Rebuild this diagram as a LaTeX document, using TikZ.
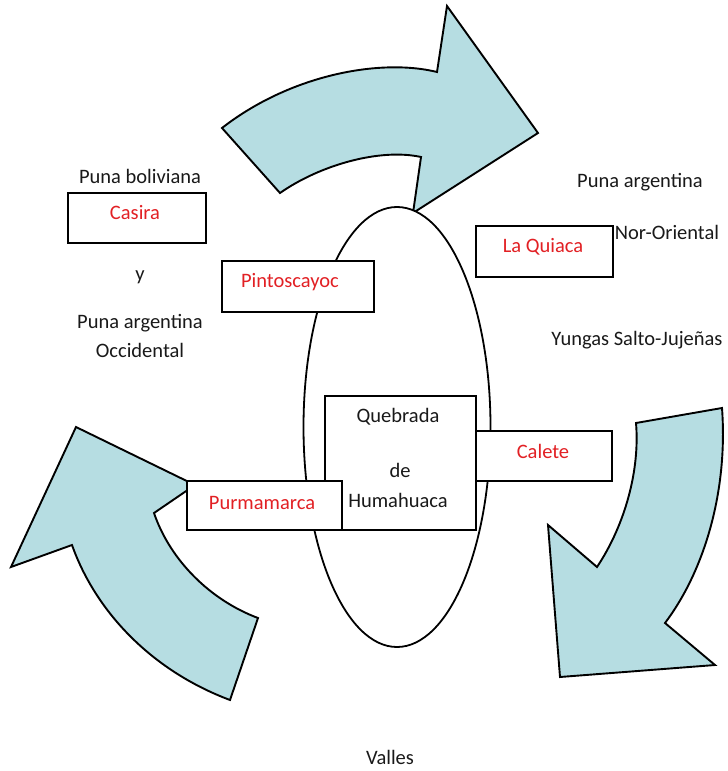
\documentclass[tikz,border=0pt]{standalone}
\usepackage{fontspec}
\setmainfont{Carlito}
\usetikzlibrary{shapes.geometric}
\definecolor{arrowfill}{RGB}{182,221,226}
\definecolor{labelred}{RGB}{226,32,36}
\definecolor{txt}{RGB}{25,25,25}
\tikzset{
  blockarrow/.style={fill=arrowfill, draw=black, line width=1.9pt, line join=miter},
  box/.style={draw=black, fill=white, line width=1.9pt, inner sep=0pt},
  redtext/.style={text=labelred, font=\fontsize{20.5}{24}\selectfont, inner sep=0pt},
  plain/.style={text=txt, font=\fontsize{20.5}{24}\selectfont, inner sep=0pt}
}
\begin{document}
\begin{tikzpicture}[x=1pt,y=-1pt]
\useasboundingbox (0,0) rectangle (728,771);
% top arrow
\draw[blockarrow] (222,128) .. controls (290,75) and (380,58) .. (437,72)
  -- (447,6) -- (538,133) -- (413,213) -- (421,157)
  .. controls (380,148) and (320,165) .. (280,193) -- cycle;
% right arrow
\draw[blockarrow] (722,408) .. controls (728,490) and (705,570) .. (665,623)
  -- (715,665) -- (560,677) -- (548,525) -- (597,567)
  .. controls (625,525) and (640,470) .. (636,423) -- cycle;
% left arrow
\draw[blockarrow] (230,700) .. controls (150,670) and (95,610) .. (72,545)
  -- (11,567) -- (76,427) -- (195,485) -- (154,513)
  .. controls (170,560) and (210,600) .. (258,618) -- cycle;
% ellipse
\node[draw=black, fill=white, line width=1.8pt, ellipse, minimum width=187pt, minimum height=440pt, inner sep=0pt] (oval) at (397,427) {};
% boxes
\node[box, minimum width=151pt, minimum height=134pt] (quebrada) at (400.5,463) {};
\node[plain] (tq) at (398,417) {Quebrada};
\node[plain] (tde) at (400,470) {de};
\node[plain] (th) at (398,500) {Humahuaca};
\node[box, minimum width=136pt, minimum height=50pt] (calete) at (544,456) {};
\node[redtext] (tcalete) at (543,451) {Calete};
\node[box, minimum width=155pt, minimum height=49pt] (purma) at (264.5,505.5) {};
\node[redtext] (tpurma) at (262,503) {Purmamarca};
\node[box, minimum width=152pt, minimum height=51pt] (pinto) at (298,286.5) {};
\node[redtext] (tpinto) at (290,282) {Pintoscayoc};
\node[box, minimum width=138pt, minimum height=50pt] (casira) at (137,218) {};
\node[redtext] (tcasira) at (135,213) {Casira};
\node[box, minimum width=137pt, minimum height=51pt] (quiaca) at (544.5,251.5) {};
\node[redtext] (tquiaca) at (543,247) {La Quiaca};
% plain labels
\node[plain] (pb) at (140,176) {Puna boliviana};
\node[plain] (y) at (140,277) {y};
\node[plain] (pa) at (140,323) {Puna argentina};
\node[plain] (occ) at (140,350) {Occidental};
\node[plain] (pa2) at (640,182) {Puna argentina};
\node[plain] (nor) at (667,232) {Nor-Oriental};
\node[plain] (yun) at (637,340) {Yungas Salto-Jujeñas};
\node[plain] (val) at (390,757) {Valles};
\end{tikzpicture}
\end{document}
